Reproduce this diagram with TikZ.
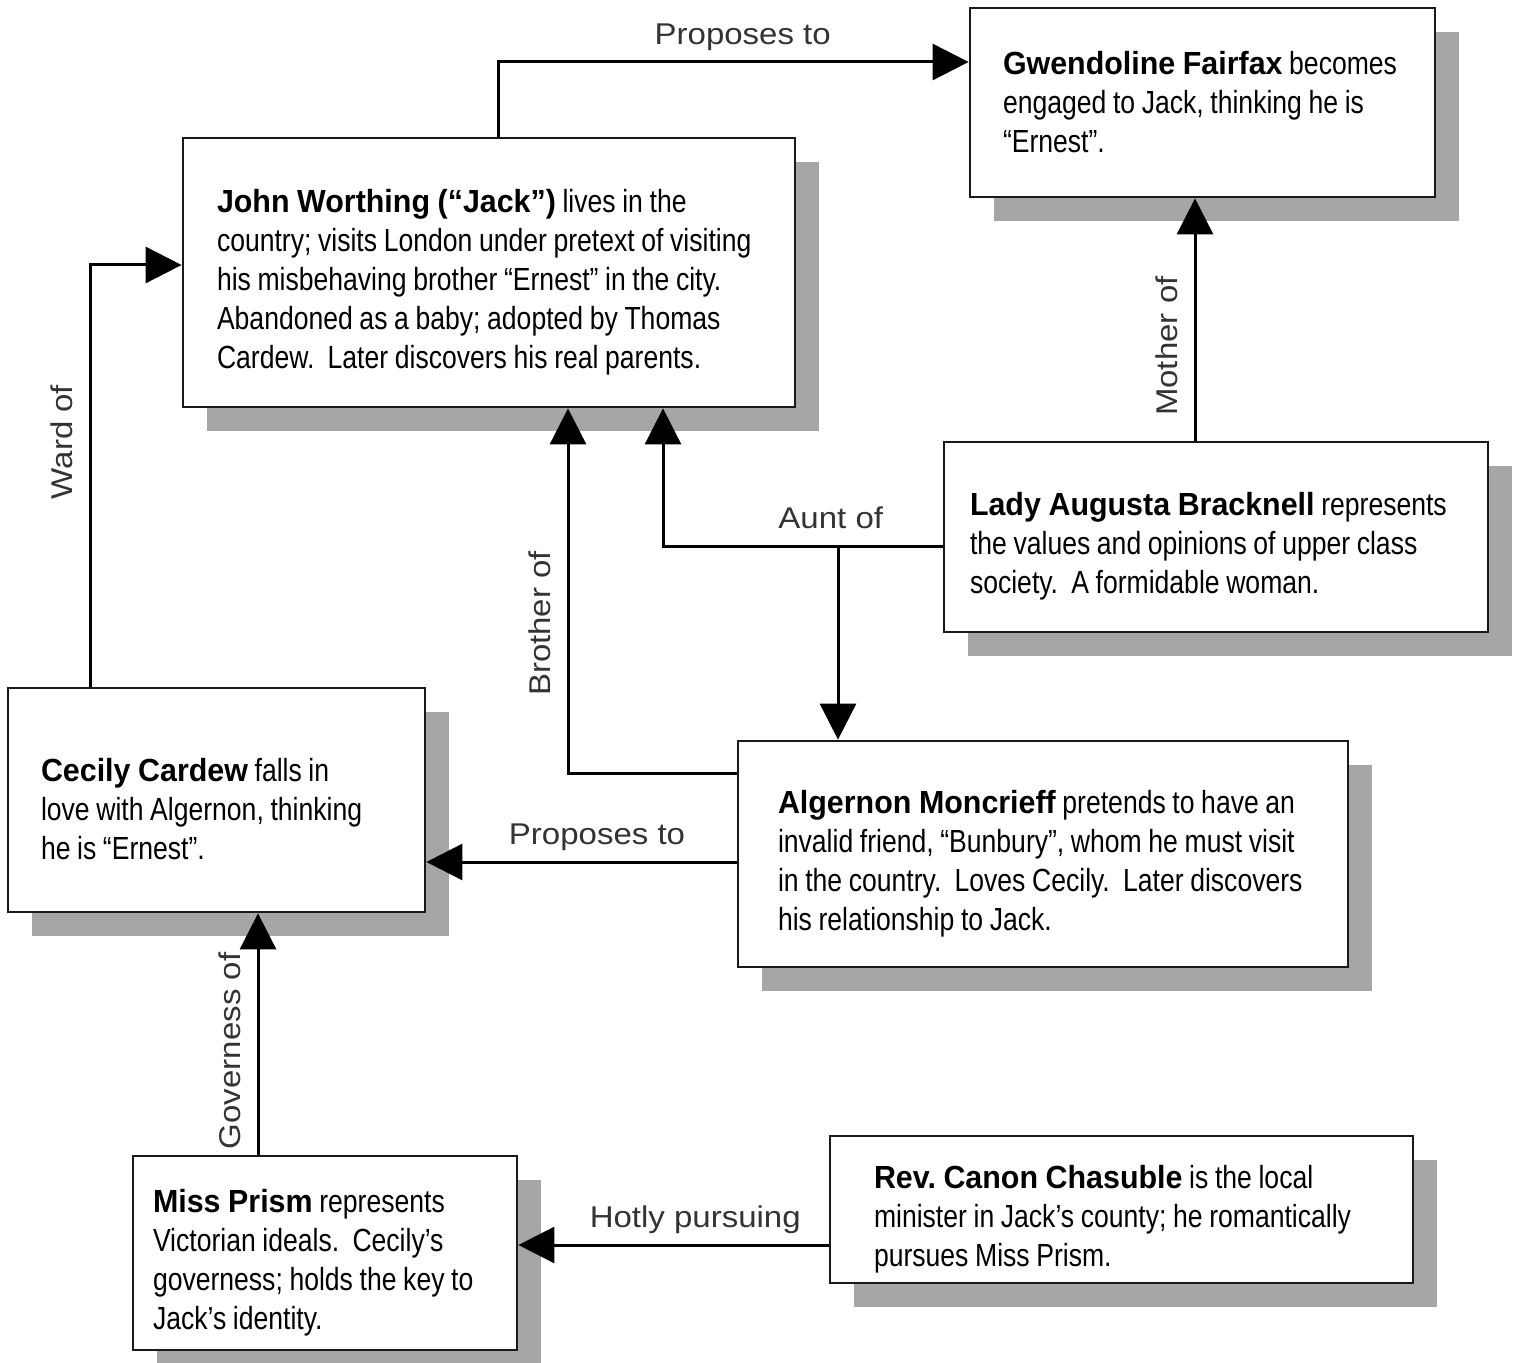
\documentclass[tikz,border=0pt]{standalone}
\usepackage{fontspec}
\setmainfont{Liberation Sans}[FakeStretch=0.83, WordSpace=0.9]
\newfontfamily\namefont{Liberation Sans}[FakeStretch=0.95, WordSpace=0.9]
\newfontfamily\linkfont{Liberation Sans}[FakeStretch=1.1]
\usetikzlibrary{arrows.meta,shadows}
\definecolor{boxshadow}{HTML}{A6A6A6}
\newcommand\who[1]{\rule{0pt}{21pt}{\namefont\bfseries #1}}
\frenchspacing
\begin{document}
\begin{tikzpicture}[x=0.5pt, y=-0.5pt, line join=miter,
	charbox/.style n args={3}{draw=black!90, line width=1.4pt, fill=white,
		general shadow={fill=boxshadow, shadow xshift=12pt, shadow yshift=-12pt},
		align=flush left, inner ysep=4pt, text width=#1, inner xsep=#2, minimum height=#3,
		font=\fontsize{16}{19.5}\selectfont},
	rel/.style={line width=1.5pt, -{Triangle[length=18pt,width=18pt]}},
	rellabel/.style={anchor=south, inner sep=6pt, text height=1.6ex, text depth=.4ex,
		text=black!80, font=\linkfont\fontsize{15}{18}\selectfont}]
	\useasboundingbox (0,0) rectangle (1514,1363);
	% the characters
	\node[charbox={199.5pt}{16.5pt}{94.5pt}] (gwen) at (1202.5,102.5)
		{{\namefont\bfseries Gwendoline Fairfax} becomes\\ engaged to Jack, thinking he is\\ “Ernest”.};
	\node[charbox={272pt}{17pt}{134.5pt}] (jack) at (489,272.5)
		{\who{John Worthing (“Jack”)} lives in the\\ country; visits London under pretext of visiting\\ his misbehaving brother “Ernest” in the city.\\ Abandoned as a baby; adopted by Thomas\\ Cardew.~ Later discovers his real parents.};
	\node[charbox={246pt}{13pt}{95pt}] (lady) at (1216,537)
		{\who{Lady Augusta Bracknell} represents\\ the values and opinions of upper class\\ society.~ A formidable woman.};
	\node[charbox={175.5pt}{16.5pt}{112pt}] (cecily) at (216.5,800)
		{\who{Cecily Cardew} falls in\\ love with Algernon, thinking\\ he is “Ernest”.};
	\node[charbox={265pt}{20pt}{113pt}] (algy) at (1043,854)
		{\who{Algernon Moncrieff} pretends to have an\\ invalid friend, “Bunbury”, whom he must visit\\ in the country.~ Loves Cecily.~ Later discovers\\ his relationship to Jack.};
	\node[charbox={172pt}{10pt}{97pt}] (prism) at (325,1253)
		{\who{Miss Prism} represents\\ Victorian ideals.~ Cecily’s\\ governess; holds the key to\\ Jack’s identity.};
	\node[charbox={247.5pt}{22pt}{73.5pt}] (chasuble) at (1121.5,1209.5)
		{\who{Rev. Canon Chasuble} is the local\\ minister in Jack’s county; he romantically\\ pursues Miss Prism.};
	% where the links leave the boxes
	\coordinate (jacktop) at ([xshift=4.5pt]jack.north);
	\coordinate (cecilytop) at ([xshift=-63.25pt]cecily.north);
	\coordinate (ladytop) at ([xshift=-10.5pt]lady.north);
	\coordinate (auntjoin) at ([yshift=-4.5pt]lady.west);
	\coordinate (algytop) at ([xshift=-102.5pt]algy.north);
	\coordinate (algyup) at ([yshift=40.5pt]algy.west);
	\coordinate (algylow) at ([yshift=-4pt]algy.west);
	\coordinate (prismtop) at ([xshift=-33.5pt]prism.north);
	\coordinate (chasleft) at ([yshift=-17.75pt]chasuble.west);
	% the relations
	\draw[rel] (jacktop) |- ([yshift=20.25pt]gwen.west) node[rellabel, pos=0.76] (proposegwen) {Proposes to};
	\draw[rel] (cecilytop) |- ([yshift=3.75pt]jack.west) node[rellabel, pos=0.29, rotate=90] (wardof) {Ward of};
	\draw[rel] (ladytop) -- (ladytop |- gwen.south) node[rellabel, pos=0.39, rotate=90] (motherof) {Mother of};
	\draw[rel] (auntjoin) -| ([xshift=87pt]jack.south) node[rellabel, pos=0.2] (auntof) {Aunt of};
	\draw[rel] (auntjoin -| algytop) -- (algytop);
	\draw[rel] (algyup) -| ([xshift=39.5pt]jack.south) node[rellabel, pos=0.705, rotate=90] (brotherof) {Brother of};
	\draw[rel] (algylow) -- (algylow -| cecily.east) node[rellabel, pos=0.45] (proposececily) {Proposes to};
	\draw[rel] (prismtop) -- (prismtop |- cecily.south) node[rellabel, pos=0.43, rotate=90] (governessof) {Governess of};
	\draw[rel] (chasleft) -- (chasleft -| prism.east) node[rellabel, pos=0.43] (pursuing) {Hotly pursuing};
\end{tikzpicture}
\end{document}
